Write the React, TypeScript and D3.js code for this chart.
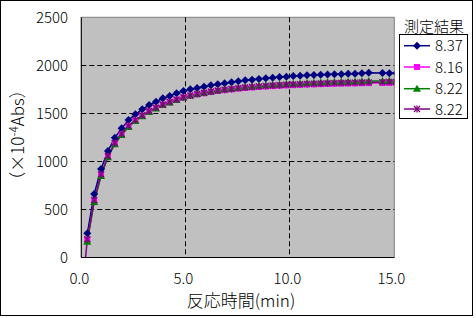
import React from "react";
import * as d3 from "d3";

const TIMES = [0.29, 0.62, 0.95, 1.28, 1.61, 1.94, 2.27, 2.6, 2.93, 3.26, 3.59, 3.92, 4.25, 4.58, 4.91, 5.24, 5.57, 5.9, 6.23, 6.56, 6.89, 7.22, 7.55, 7.88, 8.21, 8.54, 8.87, 9.2, 9.53, 9.86, 10.19, 10.52, 10.85, 11.18, 11.51, 11.84, 12.17, 12.5, 12.83, 13.16, 13.49, 13.82, 14.48, 14.81, 15.14];
const PURPLE_TIMES = [0.0, 0.29, 0.62, 0.95, 1.28, 1.61, 1.94, 2.27, 2.6, 2.93, 3.26, 3.59, 3.92, 4.25, 4.58, 4.91, 5.24, 5.57, 5.9, 6.23, 6.56, 6.89, 7.22, 7.55, 7.88, 8.21, 8.54, 8.87, 9.2, 9.53, 9.86, 10.19, 10.52, 10.85, 11.18, 11.51, 11.84, 12.17, 12.5, 12.83, 13.16, 13.49, 13.82, 14.48, 14.81, 15.14];

const BLUE = [252, 661, 921, 1108, 1246, 1344, 1431, 1490, 1542, 1587, 1621, 1657, 1681, 1709, 1733, 1750, 1764, 1777, 1792, 1802, 1813, 1823, 1834, 1844, 1850, 1857, 1865, 1871, 1878, 1881, 1889, 1892, 1896, 1899, 1902, 1904, 1906, 1906, 1913, 1913, 1917, 1923, 1920, 1917, 1918];
const MAGENTA = [183, 588, 858, 1049, 1185, 1280, 1365, 1425, 1475, 1520, 1555, 1590, 1615, 1640, 1665, 1683, 1698, 1710, 1722, 1733, 1742, 1750, 1758, 1765, 1770, 1775, 1780, 1784, 1788, 1791, 1794, 1797, 1800, 1802, 1804, 1806, 1808, 1810, 1811, 1812, 1814, 1815, 1817, 1818, 1818];
const GREEN = [165, 577, 848, 1044, 1180, 1275, 1358, 1420, 1470, 1515, 1552, 1587, 1614, 1640, 1665, 1685, 1702, 1716, 1728, 1740, 1750, 1759, 1767, 1775, 1781, 1787, 1792, 1797, 1801, 1805, 1809, 1812, 1815, 1818, 1821, 1823, 1826, 1828, 1830, 1832, 1834, 1836, 1838, 1840, 1841];
const PURPLE = [-450, 190, 598, 866, 1056, 1192, 1287, 1370, 1430, 1480, 1524, 1560, 1593, 1620, 1645, 1668, 1687, 1702, 1715, 1727, 1738, 1747, 1755, 1763, 1770, 1776, 1781, 1786, 1790, 1794, 1798, 1801, 1804, 1807, 1809, 1811, 1813, 1815, 1817, 1819, 1820, 1822, 1823, 1825, 1826, 1827];

const LEGEND_LABELS = ["8.37", "8.16", "8.22", "8.22"];
const LEGEND_TITLE = "測定結果";
const X_TICKS = [0, 5, 10, 15];
const Y_TICKS = [0, 500, 1000, 1500, 2000, 2500];
const X_TITLE = "反応時間(min)";

const FONT = "'Noto Sans CJK JP', 'Liberation Sans', sans-serif";

type Kind = "diamond" | "square" | "triangle" | "star";

function Marker({ kind, cx, cy, color }: { kind: Kind; cx: number; cy: number; color: string }) {
  if (kind === "diamond") {
    return <path d={`M${cx},${cy - 4}L${cx + 4},${cy}L${cx},${cy + 4}L${cx - 4},${cy}Z`} fill={color} />;
  }
  if (kind === "square") {
    return <rect x={cx - 3} y={cy - 3} width={6} height={6} fill={color} />;
  }
  if (kind === "triangle") {
    return <path d={`M${cx},${cy - 4}L${cx + 4},${cy + 3}L${cx - 4},${cy + 3}Z`} fill={color} />;
  }
  return (
    <g stroke={color} strokeWidth={1.3}>
      <line x1={cx - 3} y1={cy - 3} x2={cx + 3} y2={cy + 3} />
      <line x1={cx - 3} y1={cy + 3} x2={cx + 3} y2={cy - 3} />
      <line x1={cx} y1={cy - 3.5} x2={cx} y2={cy + 3.5} />
    </g>
  );
}

export default function App() {
  const W = 476, H = 318;
  const left = 81.3, right = 393.3, top = 17.3, bottom = 257.5;
  const x = d3.scaleLinear().domain([0, 15]).range([left, right]);
  const y = d3.scaleLinear().domain([0, 2500]).range([bottom, top]);

  const series = [
    { times: TIMES, values: BLUE, color: "#000080", kind: "diamond" as Kind },
    { times: TIMES, values: MAGENTA, color: "#FF00FF", kind: "square" as Kind },
    { times: TIMES, values: GREEN, color: "#008000", kind: "triangle" as Kind },
    { times: PURPLE_TIMES, values: PURPLE, color: "#800080", kind: "star" as Kind },
  ];

  const line = d3.line<[number, number]>().x((d) => x(d[0])).y((d) => y(d[1]));

  const lgX = 399, lgY = 34, lgW = 68, lgH = 84;
  const rowYs = [45.7, 67, 88.7, 109];

  return (
    <svg width={W} height={H} style={{ position: "absolute", left: 0, top: 0, background: "#fff" }} fontFamily={FONT}>
      <defs>
        <clipPath id="plotclip">
          <rect x={left} y={top} width={right - left + 1} height={bottom - top} />
        </clipPath>
      </defs>
      <rect x={0.5} y={0.5} width={472} height={315} fill="#fff" stroke="#000" strokeWidth={1} />
      <rect x={left} y={top} width={right - left + 1} height={bottom - top} fill="#C0C0C0" stroke="#808080" strokeWidth={1} />
      {Y_TICKS.filter((t) => t > 0 && t < 2500).map((t) => (
        <line key={"gy" + t} x1={left} x2={right + 1} y1={Math.round(y(t)) + 0.5} y2={Math.round(y(t)) + 0.5} stroke="#000" strokeDasharray="5,3" />
      ))}
      {X_TICKS.filter((t) => t > 0 && t < 15).map((t) => (
        <line key={"gx" + t} x1={Math.round(x(t)) + 0.5} x2={Math.round(x(t)) + 0.5} y1={top} y2={bottom} stroke="#000" strokeDasharray="5,3" />
      ))}
      <line x1={left} x2={left} y1={top} y2={bottom} stroke="#000" />
      <line x1={left} x2={right + 1} y1={bottom} y2={bottom} stroke="#000" />
      <g clipPath="url(#plotclip)">
        {series.map((s, i) => (
          <path key={"l" + i} d={line(s.times.map((t, j) => [t, s.values[j]]) as [number, number][]) || ""} fill="none" stroke={s.color} strokeWidth={1.5} />
        ))}
        {series.map((s, i) => (
          <g key={"m" + i}>
            {s.times.map((t, j) => (
              <Marker key={j} kind={s.kind} cx={x(t)} cy={y(s.values[j])} color={s.color} />
            ))}
          </g>
        ))}
      </g>
      {Y_TICKS.map((t) => (
        <text key={"yt" + t} x={68} y={y(t) + 5.5} textAnchor="end" fontSize={15} fontWeight={300} fill="#000">
          {t}
        </text>
      ))}
      {X_TICKS.map((t) => (
        <text key={"xt" + t} x={x(t) - 2} y={284} textAnchor="middle" fontSize={15} fontWeight={300} fill="#000">
          {t.toFixed(1)}
        </text>
      ))}
      <text x={241} y={307} textAnchor="middle" fontSize={17} fontWeight={300} fill="#000">
        {X_TITLE}
      </text>
      <text transform="translate(24,135) rotate(-90)" textAnchor="middle" fontSize={17} fontWeight={300} fill="#000">
        （×10<tspan dy={-6} fontSize={12}>-4</tspan>
        <tspan dy={6}>Abs）</tspan>
      </text>
      <text x={434} y={32} textAnchor="middle" fontSize={15} fontWeight={300} fill="#000">
        {LEGEND_TITLE}
      </text>
      <rect x={lgX + 0.5} y={lgY + 0.5} width={lgW} height={lgH} fill="#fff" stroke="#000" />
      {series.map((s, i) => (
        <g key={"lg" + i}>
          <line x1={404} x2={430} y1={rowYs[i]} y2={rowYs[i]} stroke={s.color} strokeWidth={1.5} />
          <Marker kind={s.kind} cx={417} cy={rowYs[i]} color={s.color} />
          <text x={435} y={rowYs[i] + 5.5} fontSize={15} fontWeight={300} fill="#000">
            {LEGEND_LABELS[i]}
          </text>
        </g>
      ))}
    </svg>
  );
}
